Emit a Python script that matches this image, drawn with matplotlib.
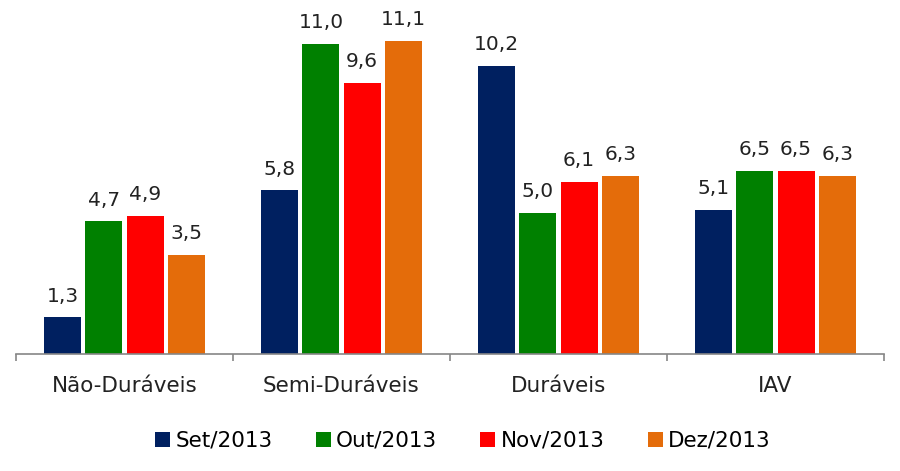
import numpy as np
import matplotlib.pyplot as plt

# dados
categorias = ["Não-Duráveis", "Semi-Duráveis", "Duráveis", "IAV"]
series = ["Set/2013", "Out/2013", "Nov/2013", "Dez/2013"]
set_2013 = [1.3, 5.8, 10.2, 5.1]
out_2013 = [4.7, 11.0, 5.0, 6.5]
nov_2013 = [4.9, 9.6, 6.1, 6.5]
dez_2013 = [3.5, 11.1, 6.3, 6.3]

valores = [set_2013, out_2013, nov_2013, dez_2013]
cores = ["#002060", "#008000", "#FF0000", "#E46C0A"]

plt.rcParams['font.family'] = ['DejaVu Sans']

fig = plt.figure(figsize=(9, 4.71), dpi=100)
ax = fig.add_axes([16 / 900, 117 / 471, 868 / 900, 354 / 471])

x = np.arange(len(categorias))
largura = 0.17
passo = 0.19

for i, (nome, vals, cor) in enumerate(zip(series, valores, cores)):
    pos = x + (i - 1.5) * passo
    barras = ax.bar(pos, vals, largura, color=cor, label=nome)
    for b, v in zip(barras, vals):
        ax.annotate(f"{v:.1f}".replace(".", ","),
                    (b.get_x() + b.get_width() / 2, v),
                    xytext=(0, 8.5), textcoords="offset points",
                    ha="center", va="bottom", fontsize=14.5, color="#222222")

ax.set_xlim(-0.5, len(categorias) - 0.5)
ax.set_ylim(0, 12.55)

for s in ["top", "right", "left"]:
    ax.spines[s].set_visible(False)
ax.spines["bottom"].set_color("#868686")
ax.spines["bottom"].set_linewidth(1.2)

ax.set_yticks([])
ax.set_xticks(x)
ax.set_xticklabels(categorias, fontsize=15.5, color="#222222")
ax.tick_params(axis="x", which="major", length=0, pad=16)
ax.set_xticks(np.arange(-0.5, len(categorias), 1.0), minor=True)
ax.tick_params(axis="x", which="minor", length=5, color="#868686", width=1.2)

ax.legend(loc="center", bbox_to_anchor=(463 / 900, 30 / 471),
          bbox_transform=fig.transFigure, ncol=4, frameon=False,
          fontsize=15.5, handlelength=0.7, handleheight=0.7,
          handletextpad=0.25, columnspacing=2.0)

fig.savefig("out.png", dpi=100)
